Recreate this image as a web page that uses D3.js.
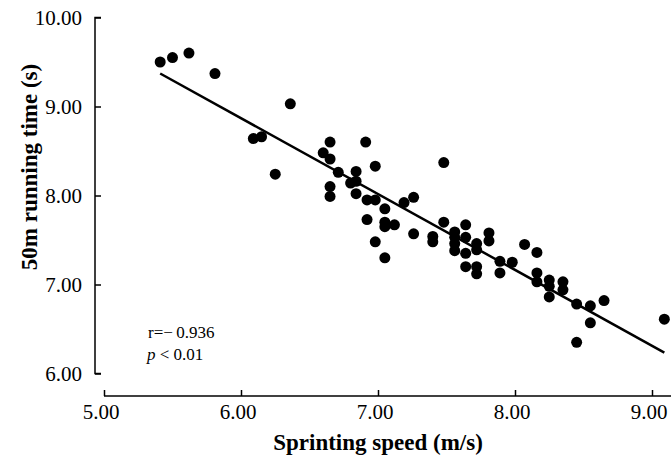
<!DOCTYPE html>
<html>
<head>
<meta charset="utf-8">
<script src="https://cdn.jsdelivr.net/npm/d3@7"></script>
<style>
  html, body { margin: 0; padding: 0; background: #fff; }
  svg { display: block; }
  text { font-family: "Liberation Serif", "Times New Roman", serif; fill: #000; }
</style>
</head>
<body>
<svg id="chart" width="671" height="461"></svg>
<script>
// ---- data ----
const speed = [5.41, 5.50, 5.62, 5.81, 6.36, 6.09, 6.15, 6.25, 6.65, 6.60, 6.65, 6.71, 6.91, 6.84, 6.98,
  6.80, 6.84, 6.65, 6.65, 6.84, 6.92, 6.98, 7.05, 7.19, 7.26, 6.92, 7.05, 7.05, 7.12, 7.26, 6.98, 7.05,
  7.48, 7.48, 7.40, 7.40, 7.56, 7.56, 7.56, 7.56, 7.64, 7.64, 7.64, 7.64, 7.72, 7.72, 7.72, 7.72,
  7.81, 7.81, 7.89, 7.89, 7.98, 8.07, 8.16, 8.16, 8.16, 8.25, 8.25, 8.25, 8.35, 8.35, 8.45, 8.45,
  8.55, 8.55, 8.65, 9.09];
const runTime = [9.50, 9.55, 9.60, 9.37, 9.03, 8.64, 8.66, 8.24, 8.60, 8.48, 8.41, 8.26, 8.60, 8.27, 8.33,
  8.14, 8.16, 8.10, 7.99, 8.02, 7.95, 7.95, 7.85, 7.92, 7.98, 7.73, 7.70, 7.65, 7.67, 7.57, 7.48, 7.30,
  8.37, 7.70, 7.54, 7.48, 7.59, 7.53, 7.46, 7.38, 7.67, 7.53, 7.35, 7.20, 7.46, 7.39, 7.20, 7.12,
  7.58, 7.49, 7.26, 7.13, 7.25, 7.45, 7.36, 7.13, 7.03, 7.05, 6.98, 6.86, 7.03, 6.94, 6.78, 6.35,
  6.76, 6.57, 6.82, 6.61];
const xTicks = [5, 6, 7, 8, 9];
const yTicks = [6, 7, 8, 9, 10];
const fitIntercept = 13.98;
const fitSlope = -0.852;
const statText = ["r=\u2212\u20090.936", "p < 0.01"];
const xTitle = "Sprinting speed (m/s)";
const yTitle = "50m running time (s)";

// ---- layout ----
const svg = d3.select("#chart");
const x = d3.scaleLinear().domain([5, 9.2]).range([104, 104 + 4.2 * 137]);
const y = d3.scaleLinear().domain([6, 10]).range([373.5, 17.5]);
const xAxisY = 396;
const yAxisX = 95;

// y axis (ticks inward)
const yAxis = svg.append("g").attr("transform", `translate(${yAxisX},0)`)
  .call(d3.axisRight(y).tickValues(yTicks).tickSize(6).tickFormat(""));
yAxis.select(".domain").attr("d", `M6,${y(10)}H0V${y(6)}H6`).attr("stroke", "#000").attr("stroke-width", 1.5);
yAxis.selectAll(".tick line").attr("stroke", "#000").attr("stroke-width", 1.5);
svg.append("g").selectAll("text").data(yTicks).join("text")
  .attr("x", 82).attr("y", d => y(d) + 7)
  .attr("text-anchor", "end").attr("font-size", 21)
  .text(d => d.toFixed(2));

// x axis (ticks upward)
const xAxis = svg.append("g").attr("transform", `translate(0,${xAxisY})`)
  .call(d3.axisTop(x).tickValues(xTicks).tickSize(6).tickFormat(""));
xAxis.select(".domain").attr("d", `M${x(5)},0H${x(9.2)}`).attr("stroke", "#000").attr("stroke-width", 1.5);
xAxis.selectAll(".tick line").attr("stroke", "#000").attr("stroke-width", 1.5);
svg.append("g").selectAll("text").data(xTicks).join("text")
  .attr("x", d => x(d) - 3).attr("y", 419)
  .attr("text-anchor", "middle").attr("font-size", 21)
  .text(d => d.toFixed(2));

// titles
svg.append("text").attr("x", 378).attr("y", 450)
  .attr("text-anchor", "middle").attr("font-size", 23).attr("font-weight", "bold")
  .text(xTitle);
svg.append("text").attr("transform", "translate(37,167) rotate(-90)")
  .attr("text-anchor", "middle").attr("font-size", 23).attr("font-weight", "bold")
  .text(yTitle);

// regression line
const xMin = d3.min(speed), xMax = d3.max(speed);
svg.append("line")
  .attr("x1", x(xMin)).attr("y1", y(fitIntercept + fitSlope * xMin))
  .attr("x2", x(xMax)).attr("y2", y(fitIntercept + fitSlope * xMax))
  .attr("stroke", "#000").attr("stroke-width", 2.5);

// points
svg.append("g").selectAll("circle").data(speed.map((s, i) => [s, runTime[i]])).join("circle")
  .attr("cx", d => x(d[0])).attr("cy", d => y(d[1])).attr("r", 5.5).attr("fill", "#000");

// stats annotation
svg.append("text").attr("x", 148).attr("y", 338).attr("font-size", 17).text(statText[0]);
const t2 = svg.append("text").attr("x", 147).attr("y", 360).attr("font-size", 17);
t2.append("tspan").attr("font-style", "italic").text("p");
t2.append("tspan").text(" < 0.01");
</script>
</body>
</html>
